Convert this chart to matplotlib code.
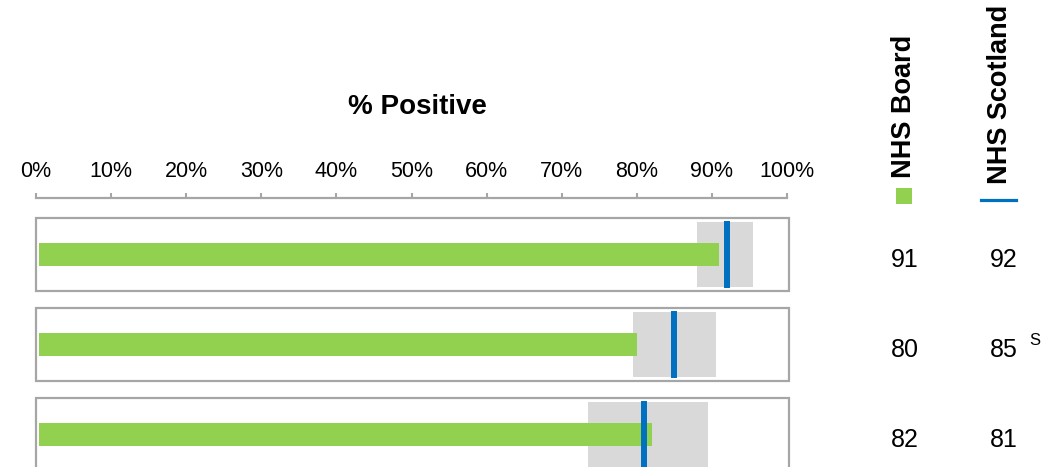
import matplotlib
matplotlib.use("Agg")
import matplotlib.pyplot as plt
from matplotlib.patches import Rectangle
from matplotlib import transforms

plt.rcParams['font.family'] = ['Liberation Sans', 'DejaVu Sans']

# values
board = [91, 80, 82]          # NHS Board % positive (green bar)
scotland = [92, 85, 81]       # NHS Scotland (blue marker)
band_low = [88, 79.5, 73.5]   # grey range
band_high = [95.5, 90.5, 89.5]
notes = ["", "S", ""]
ticks = [0, 10, 20, 30, 40, 50, 60, 70, 80, 90, 100]

green = '#92d050'
blue = '#0070c0'
grey = '#d9d9d9'
edge = '#a6a6a6'

W, H = 1061, 467
fig = plt.figure(figsize=(W / 100, H / 100), dpi=100)

# axes: x from 0% (px 36) to 100% (px 787), top spine at px 198
ax = fig.add_axes([36 / W, 0, (787 - 36) / W, (467 - 198) / H])
ax.set_xlim(0, 100)
ax.set_ylim(2.361, -0.628)

for i in range(len(board)):
    ax.add_patch(Rectangle((0, i - 0.405), 100.3, 0.81, facecolor='white',
                           edgecolor=edge, lw=1.6, clip_on=False, zorder=1))
    ax.add_patch(Rectangle((band_low[i], i - 0.36), band_high[i] - band_low[i], 0.72,
                           facecolor=grey, edgecolor='none', zorder=2))
    ax.barh(i, board[i] - 0.4, left=0.4, height=0.245, color=green, zorder=3)
    ax.plot([scotland[i], scotland[i]], [i - 0.367, i + 0.367], color=blue,
            lw=4.3, solid_capstyle='butt', zorder=4)

ax.xaxis.tick_top()
ax.set_xticks(ticks)
ax.set_xticklabels([f"{t}%" for t in ticks], fontsize=15.5)
ax.tick_params(axis='x', direction='out', length=3.8, width=1.5, color=edge, pad=7.5)
ax.set_yticks([])
for s in ['left', 'right', 'bottom']:
    ax.spines[s].set_visible(False)
ax.spines['top'].set_color(edge)
ax.spines['top'].set_linewidth(1.6)

fig.text(417 / W, 1 - 107 / H, "% Positive", ha='center', va='center',
         fontsize=20, fontweight='bold')

# column headers
fig.text(904 / W, 1 - 178 / H, "NHS Board", rotation=90, ha='center', va='bottom',
         fontsize=19.5, fontweight='bold')
fig.text(1000 / W, 1 - 184 / H, "NHS Scotland", rotation=90, ha='center', va='bottom',
         fontsize=19.5, fontweight='bold')
fig.patches.append(Rectangle((896 / W, 1 - 204 / H), 16 / W, 16 / H, facecolor=green,
                             edgecolor='none', transform=fig.transFigure, figure=fig))
fig.lines.append(plt.Line2D([981 / W, 1016 / W], [1 - 200 / H, 1 - 200 / H], color=blue,
                            lw=2.3, transform=fig.transFigure, figure=fig))

tr = transforms.blended_transform_factory(fig.transFigure, ax.transData)
for i in range(len(board)):
    ax.text(905 / W, i + 0.06, str(board[i]), transform=tr, ha='center', va='center',
            fontsize=18)
    ax.text(1004 / W, i + 0.06, str(scotland[i]), transform=tr, ha='center', va='center',
            fontsize=18)
    if notes[i]:
        ax.text(1035 / W, i - 0.05, notes[i], transform=tr, ha='center', va='center',
                fontsize=12)

fig.savefig("out.png", dpi=100)
